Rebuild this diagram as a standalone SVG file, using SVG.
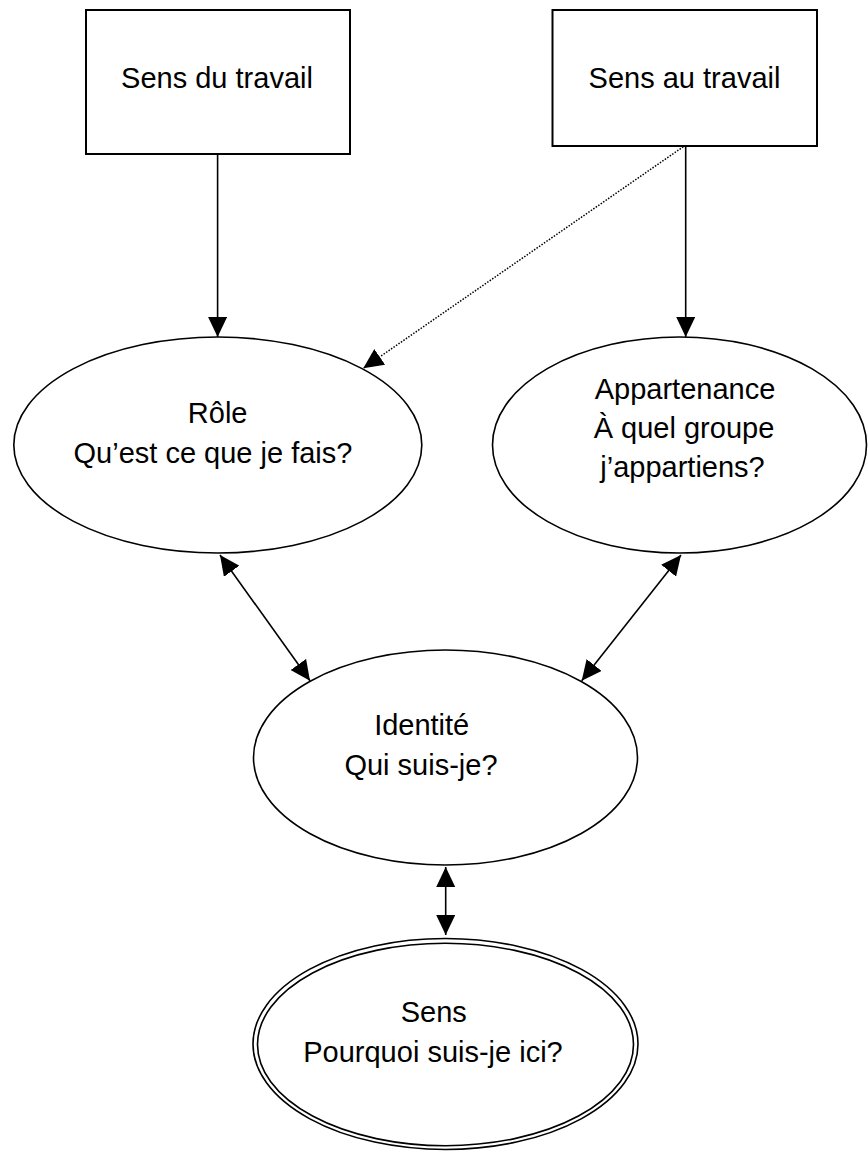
<svg xmlns="http://www.w3.org/2000/svg" width="868" height="1151" viewBox="0 0 868 1151">
  <style>
    .box { fill: #ffffff; stroke: #000000; stroke-width: 2; }
    .ell { fill: #ffffff; stroke: #000000; stroke-width: 1.6; }
    .lbl { font-family: "Liberation Sans", Arial, sans-serif; font-size: 29px; fill: #000000; text-anchor: middle; }
    .edge { fill: none; stroke: #000000; stroke-width: 1.6; }
    .dot { fill: none; stroke: #000000; stroke-width: 1.5; stroke-dasharray: 1.5 1.5; }
  </style>
  <defs>
    <marker id="ah" markerUnits="userSpaceOnUse" markerWidth="20" markerHeight="19" refX="20" refY="9.5" orient="auto-start-reverse" viewBox="0 0 20 19">
      <path d="M0,0 L20,9.5 L0,19 z" fill="#000000"/>
    </marker>
  </defs>
  <rect width="868" height="1151" fill="#ffffff"/>

  <g id="connectors">
    <line class="edge" x1="217.6" y1="154" x2="217.6" y2="337" marker-end="url(#ah)"/>
    <line class="edge" x1="685.7" y1="146" x2="685.7" y2="337" marker-end="url(#ah)"/>
    <line class="dot" x1="683.3" y1="146.7" x2="363.3" y2="368.3" marker-end="url(#ah)"/>
    <line class="edge" x1="220" y1="555" x2="310" y2="680.7" marker-start="url(#ah)" marker-end="url(#ah)"/>
    <line class="edge" x1="681" y1="555" x2="581.7" y2="680.7" marker-start="url(#ah)" marker-end="url(#ah)"/>
    <line class="edge" x1="445.7" y1="867" x2="445.7" y2="935" marker-start="url(#ah)" marker-end="url(#ah)"/>
  </g>

  <g id="sens-du-travail">
    <rect class="box" x="86" y="10" width="264" height="144"/>
    <text class="lbl" x="217" y="88">Sens du travail</text>
  </g>

  <g id="sens-au-travail">
    <rect class="box" x="552.5" y="10" width="264.5" height="136"/>
    <text class="lbl" x="684.5" y="88">Sens au travail</text>
  </g>

  <g id="role">
    <ellipse class="ell" cx="217.8" cy="445" rx="204" ry="108"/>
    <text class="lbl" x="217.7" y="423">Rôle</text>
    <text class="lbl" x="213" y="462.5">Qu’est ce que je fais?</text>
  </g>

  <g id="appartenance">
    <ellipse class="ell" cx="679.5" cy="445" rx="187" ry="108"/>
    <text class="lbl" x="685" y="399">Appartenance</text>
    <text class="lbl" x="684" y="438">À quel groupe</text>
    <text class="lbl" x="682.5" y="477">j’appartiens?</text>
  </g>

  <g id="identite">
    <ellipse class="ell" cx="445.5" cy="757.5" rx="192" ry="107.5"/>
    <text class="lbl" x="421.7" y="735">Identité</text>
    <text class="lbl" x="421" y="775">Qui suis-je?</text>
  </g>

  <g id="sens">
    <ellipse class="ell" cx="445.5" cy="1044" rx="192.5" ry="105.5"/>
    <ellipse class="ell" cx="445.5" cy="1044.5" rx="188" ry="101.2"/>
    <text class="lbl" x="433.8" y="1022">Sens</text>
    <text class="lbl" x="433" y="1062">Pourquoi suis-je ici?</text>
  </g>
</svg>
